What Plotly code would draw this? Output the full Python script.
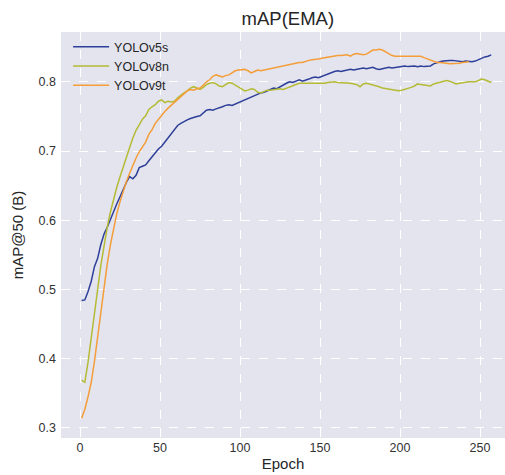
import plotly.graph_objects as go

# mAP@50 (EMA) per training epoch for three detectors, sampled every 2 epochs
YOLOV5S = [
    0.484, 0.485, 0.497, 0.512, 0.533, 0.545, 0.565, 0.580, 0.590, 0.602,
    0.612, 0.624, 0.634, 0.645, 0.655, 0.663, 0.660, 0.665, 0.676, 0.678,
    0.680, 0.686, 0.692, 0.697, 0.703, 0.707, 0.713, 0.720, 0.726, 0.732,
    0.737, 0.740, 0.743, 0.745, 0.747, 0.749, 0.750, 0.751, 0.755, 0.759,
    0.760, 0.759, 0.761, 0.762, 0.764, 0.766, 0.767, 0.766, 0.768, 0.771,
    0.773, 0.775, 0.777, 0.779, 0.781, 0.783, 0.784, 0.785, 0.787, 0.789,
    0.791, 0.790, 0.793, 0.796, 0.798, 0.800, 0.799, 0.801, 0.803, 0.801,
    0.802, 0.804, 0.806, 0.807, 0.806, 0.808, 0.810, 0.812, 0.813, 0.815,
    0.816, 0.815, 0.816, 0.817, 0.818, 0.817, 0.818, 0.819, 0.820, 0.819,
    0.820, 0.821, 0.819, 0.818, 0.819, 0.820, 0.821, 0.820, 0.821, 0.822,
    0.822, 0.823, 0.822, 0.823, 0.823, 0.822, 0.823, 0.822, 0.823, 0.823,
    0.826, 0.828, 0.829, 0.830, 0.831, 0.831, 0.831, 0.830, 0.829, 0.829,
    0.830, 0.829, 0.829, 0.830, 0.832, 0.835, 0.836, 0.837, 0.839,
]

YOLOV8N = [
    0.369, 0.366, 0.395, 0.428, 0.462, 0.500, 0.535, 0.564, 0.590, 0.612,
    0.631, 0.648, 0.663, 0.678, 0.692, 0.705, 0.719, 0.730, 0.738, 0.746,
    0.751, 0.760, 0.764, 0.767, 0.772, 0.774, 0.770, 0.772, 0.771, 0.772,
    0.777, 0.781, 0.784, 0.787, 0.791, 0.793, 0.791, 0.789, 0.792, 0.796,
    0.798, 0.799, 0.797, 0.794, 0.793, 0.796, 0.799, 0.798, 0.795, 0.793,
    0.790, 0.787, 0.788, 0.790, 0.789, 0.785, 0.784, 0.786, 0.788, 0.788,
    0.789, 0.789, 0.790, 0.789, 0.791, 0.792, 0.795, 0.797, 0.798, 0.798,
    0.798, 0.797, 0.798, 0.797, 0.797, 0.797, 0.798, 0.799, 0.800, 0.800,
    0.799, 0.799, 0.798, 0.798, 0.798, 0.797, 0.796, 0.793, 0.797, 0.798,
    0.797, 0.796, 0.795, 0.793, 0.791, 0.790, 0.789, 0.789, 0.788, 0.787,
    0.788, 0.789, 0.790, 0.792, 0.794, 0.797, 0.796, 0.795, 0.795, 0.794,
    0.797, 0.798, 0.799, 0.801, 0.802, 0.801, 0.799, 0.797, 0.798, 0.799,
    0.800, 0.800, 0.800, 0.800, 0.802, 0.804, 0.803, 0.801, 0.799,
]

YOLOV9T = [
    0.314, 0.327, 0.345, 0.366, 0.396, 0.433, 0.471, 0.504, 0.537, 0.565,
    0.590, 0.610, 0.627, 0.643, 0.656, 0.668, 0.680, 0.690, 0.699, 0.706,
    0.713, 0.724, 0.731, 0.740, 0.746, 0.752, 0.757, 0.762, 0.766, 0.771,
    0.775, 0.779, 0.783, 0.787, 0.789, 0.788, 0.790, 0.791, 0.795, 0.800,
    0.803, 0.808, 0.810, 0.808, 0.807, 0.809, 0.810, 0.813, 0.816, 0.817,
    0.818, 0.818, 0.816, 0.813, 0.815, 0.817, 0.816, 0.817, 0.818, 0.819,
    0.820, 0.820, 0.822, 0.823, 0.824, 0.825, 0.826, 0.827, 0.828, 0.828,
    0.830, 0.831, 0.832, 0.832, 0.833, 0.834, 0.835, 0.836, 0.837, 0.837,
    0.838, 0.838, 0.839, 0.839, 0.837, 0.840, 0.841, 0.840, 0.839, 0.840,
    0.843, 0.846, 0.846, 0.847, 0.846, 0.843, 0.840, 0.838, 0.837, 0.837,
    0.837, 0.838, 0.837, 0.837, 0.838, 0.838, 0.837, 0.835, 0.833, 0.831,
    0.829, 0.828, 0.828, 0.828, 0.827, 0.826, 0.826, 0.826, 0.827, 0.828,
    0.829, 0.829,
]

SERIES = [
    ("YOLOv5s", YOLOV5S, "#2d3f98"),
    ("YOLOv8n", YOLOV8N, "#b5bb35"),
    ("YOLOv9t", YOLOV9T, "#f59d38"),
]

X_TICKS = [0, 50, 100, 150, 200, 250]
Y_TICKS = [0.3, 0.4, 0.5, 0.6, 0.7, 0.8]
Y_TICK_TEXT = ["0.3", "0.4", "0.5", "0.6", "0.7", "0.8"]

FONT = "Liberation Sans, Arial, sans-serif"

fig = go.Figure()
for name, values, color in SERIES:
    epochs = list(range(1, 2 * len(values), 2))
    fig.add_trace(go.Scatter(
        x=epochs, y=values, mode="lines", name=name,
        line=dict(color=color, width=1.5),
    ))

fig.update_layout(
    width=505, height=475,
    margin=dict(l=61, r=0, t=32, b=37),
    paper_bgcolor="white",
    plot_bgcolor="#e3e4ee",
    font=dict(family=FONT, color="#262626", size=12),
    title=dict(text="mAP(EMA)", x=0.57, xanchor="center", y=0.962, yanchor="middle",
               font=dict(size=18.5, color="#262626")),
    legend=dict(x=0.016, y=1.0, xanchor="left", yanchor="top",
                bgcolor="rgba(0,0,0,0)", font=dict(size=12.5, color="#262626"),
                itemwidth=36, tracegroupgap=0),
    showlegend=True,
)

fig.update_xaxes(
    range=[-11.9, 265.6], tickvals=X_TICKS, ticks="", showline=False, zeroline=False,
    showgrid=True, gridcolor="white", gridwidth=1, griddash="dash",
    tickfont=dict(size=12.5, color="#333333"),
    title=dict(text="Epoch", font=dict(size=15, color="#262626"), standoff=4),
)
fig.update_yaxes(
    range=[0.2855, 0.872], tickvals=Y_TICKS, ticktext=Y_TICK_TEXT, ticks="",
    showline=False, zeroline=False,
    showgrid=True, gridcolor="white", gridwidth=1, griddash="dash",
    tickfont=dict(size=12.5, color="#333333"), ticklabelstandoff=4,
    title=dict(text="mAP@50 (B)", font=dict(size=15, color="#262626"), standoff=11),
)

fig.write_html("out.html")
